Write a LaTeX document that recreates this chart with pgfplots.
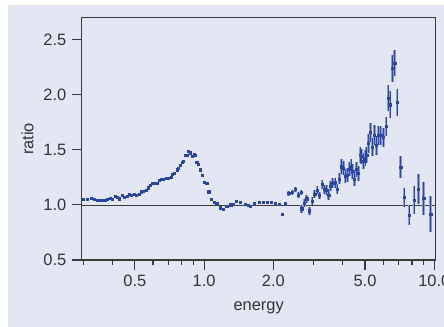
\documentclass[border=0pt]{standalone}
\usepackage{pgfplots}
\usepackage{pgfplotstable}
\pgfplotsset{compat=1.18}
\usepackage{fontspec}
\setmainfont{Liberation Sans}
\definecolor{bgblue}{HTML}{E3E7F3}
\definecolor{ptblue}{HTML}{2A45A3}
\definecolor{errlight}{HTML}{8E9CD2}
\definecolor{framegray}{HTML}{3A3A3A}

\pgfplotstableread{
E r
0.2974 1.055
0.3095 1.052
0.3231 1.060
0.3329 1.052
0.3420 1.045
0.3510 1.040
0.3607 1.040
0.3705 1.045
0.3803 1.050
0.3907 1.060
0.3997 1.052
0.4095 1.076
0.4190 1.070
0.4287 1.057
0.4391 1.090
0.4507 1.070
0.4616 1.080
0.4724 1.097
0.4834 1.090
0.4951 1.097
0.5068 1.090
0.5206 1.097
0.5327 1.120
0.5451 1.125
0.5584 1.136
0.5697 1.157
0.5812 1.180
0.5947 1.197
0.6085 1.200
0.6233 1.197
0.6359 1.225
0.6507 1.233
0.6658 1.236
0.6820 1.240
0.6978 1.240
0.7169 1.250
0.7285 1.280
0.7432 1.290
0.7612 1.320
0.7735 1.336
0.7868 1.364
0.8002 1.390
0.8132 1.397
0.8296 1.448
0.8413 1.448
0.8548 1.490
0.8695 1.475
0.8870 1.440
0.9023 1.460
0.9168 1.448
0.9295 1.390
0.9445 1.370
0.9608 1.320
0.9831 1.270
1.0030 1.210
1.0274 1.200
1.0481 1.120
1.0725 1.052
1.1052 1.025
1.1354 1.015
1.1734 0.975
1.2128 0.964
1.2548 0.985
1.3057 1.003
1.3321 1.006
1.3769 1.034
1.4331 1.025
1.5067 1.006
1.5570 0.994
1.5837 0.991
1.6533 1.012
1.7328 1.025
1.8089 1.027
1.8827 1.027
1.9598 1.027
2.0339 1.015
2.1170 1.006
2.1878 0.918
2.2545 1.012
}\lowdata

\pgfplotstableread{
E r e
2.3322 1.106 0.025
2.4106 1.115 0.025
2.4915 1.140 0.025
2.5673 1.088 0.025
2.6376 1.115 0.025
2.6561 0.966 0.035
2.7259 1.015 0.035
2.7920 1.057 0.035
2.8655 0.948 0.035
2.9439 1.033 0.035
3.0245 1.097 0.035
3.0948 1.136 0.035
3.1668 1.085 0.035
3.2535 1.185 0.042
3.3425 1.143 0.042
3.4100 1.136 0.042
3.4789 1.088 0.045
3.5491 1.173 0.045
3.6208 1.197 0.045
3.7050 1.203 0.045
3.7798 1.143 0.045
3.8676 1.236 0.050
3.9615 1.348 0.065
4.0254 1.333 0.065
4.0945 1.264 0.065
4.1897 1.273 0.065
4.2744 1.324 0.065
4.3477 1.348 0.065
4.4222 1.303 0.065
4.4936 1.233 0.065
4.6027 1.324 0.070
4.6774 1.288 0.070
4.7576 1.455 0.070
4.8392 1.439 0.070
4.9173 1.400 0.070
5.0016 1.424 0.075
5.0874 1.455 0.075
5.1696 1.560 0.085
5.2740 1.657 0.090
5.3806 1.527 0.085
5.4893 1.636 0.090
5.6003 1.539 0.085
5.7136 1.630 0.090
5.8522 1.630 0.085
6.0065 1.615 0.085
6.1709 1.712 0.090
6.2955 1.970 0.120
6.4227 1.910 0.120
6.5985 2.240 0.120
6.7317 2.290 0.120
6.8882 1.930 0.120
7.1477 1.343 0.100
7.3876 1.067 0.090
7.7657 0.909 0.090
8.1638 1.045 0.125
8.5228 1.145 0.140
8.9955 1.060 0.150
9.6465 0.918 0.160
}\errdata

\begin{document}
\begin{tikzpicture}
\useasboundingbox (0,0) rectangle (444bp,327bp);
\fill[white] (0,0) rectangle (444bp,327bp);
\fill[bgblue] (8bp,0) rectangle (444bp,322bp);
\begin{axis}[
  at={(81.7bp,67bp)}, anchor=south west,
  width=354bp, height=242.3bp, scale only axis,
  xmode=log, xmin=0.294, xmax=10.14, ymin=0.5, ymax=2.7,
  axis line style={framegray, line width=1.1pt},
  tick align=outside,
  xtick={0.5,1,2,5,10}, xticklabels={0.5,1.0,2.0,5.0,10.0},
  minor xtick={0.3,0.4,0.6,0.7,0.8,0.9,3,4,6,7,8,9},
  ytick={0.5,1,1.5,2,2.5}, yticklabels={0.5,1.0,1.5,2.0,2.5},
  xtick pos=bottom, ytick pos=left,
  major tick length=10bp, minor tick length=5bp,
  every tick/.style={framegray, line width=1.1pt},
  tick label style={font=\fontsize{16.5}{18}\selectfont, text=black!80},
  yticklabel style={xshift=-2bp},
  xticklabel style={yshift=-2bp},
  xlabel={energy}, ylabel={ratio},
  every axis x label/.style={at={(axis description cs:0.5,-0.2092)}, anchor=base,
    font=\fontsize{16.5}{18}\selectfont, text=black!80},
  every axis y label/.style={at={(axis description cs:-0.1531,0.5)}, rotate=90, anchor=center,
    font=\fontsize{16.5}{18}\selectfont, text=black!80},
  clip=false,
]
\addplot[framegray, line width=0.8pt] coordinates {(0.294,1) (10.14,1)};
\addplot[only marks, mark=square*, mark size=1.1bp, ptblue] table[x=E, y=r] {\lowdata};
\addplot[draw=none, mark=none, error bars/.cd, y dir=both, y explicit, error mark=none,
  error bar style={draw=errlight, line width=2.6pt}] table[x=E, y=r, y error=e] {\errdata};
\addplot[only marks, mark=square*, mark size=1.1bp, ptblue, error bars/.cd, y dir=both, y explicit, error mark=none,
  error bar style={draw=ptblue, line width=1.0pt}] table[x=E, y=r, y error=e] {\errdata};
\end{axis}
\end{tikzpicture}
\end{document}
